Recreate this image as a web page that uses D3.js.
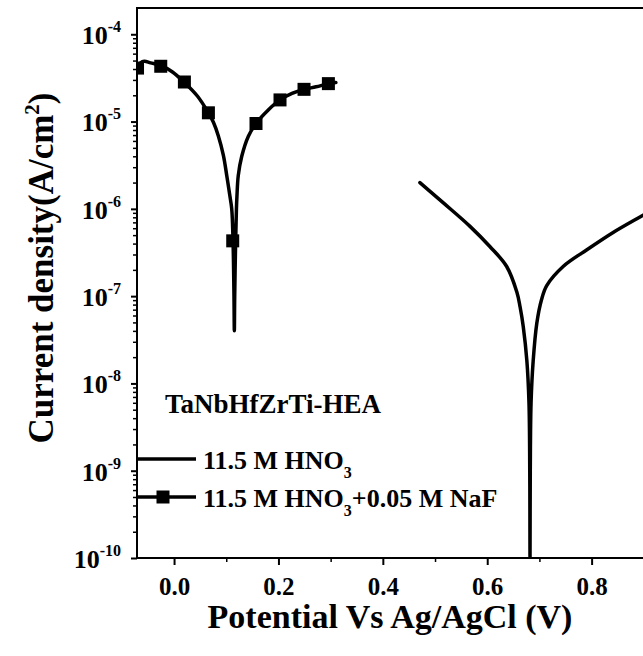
<!DOCTYPE html>
<html>
<head>
<meta charset="utf-8">
<script src="https://cdn.jsdelivr.net/npm/d3@7"></script>
<style>
  html, body { margin: 0; padding: 0; background: #fff; }
  svg { display: block; font-family: "Liberation Serif", "Times New Roman", serif; font-weight: bold; }
  svg text { font-family: "Liberation Serif", "Times New Roman", serif; font-weight: bold; }
</style>
</head>
<body>
<div id="chart"></div>
<script>
// potential (V vs Ag/AgCl) and current density (A/cm2)
const hno3Potential = [0.471, 0.516, 0.567, 0.605, 0.637, 0.657, 0.663, 0.669, 0.676, 0.680, 0.6815, 0.682,
  0.6825, 0.684, 0.688, 0.695, 0.704, 0.714, 0.746, 0.791, 0.842, 0.896, 0.91];
const hno3Current = [2.0e-6, 1.17e-6, 6.3e-7, 3.7e-7, 2.2e-7, 1.1e-7, 7.5e-8, 4.5e-8, 1.8e-8, 6e-9, 1e-9, 1e-10,
  1e-9, 6e-9, 1.8e-8, 4.9e-8, 9.1e-8, 1.32e-7, 2.2e-7, 3.4e-7, 5.4e-7, 8.3e-7, 9.3e-7];

const nafPotential = [-0.071, -0.064, -0.057, -0.045, -0.026, -0.003, 0.020, 0.045, 0.0658, 0.0754, 0.085,
  0.0945, 0.101, 0.107, 0.1105, 0.113, 0.1148, 0.1155, 0.1162, 0.118, 0.1195, 0.1205, 0.123, 0.1297, 0.1424,
  0.157, 0.180, 0.203, 0.226, 0.249, 0.272, 0.296, 0.310];
const nafCurrent = [4.0e-5, 4.7e-5, 4.9e-5, 4.7e-5, 4.4e-5, 3.7e-5, 2.8e-5, 1.95e-5, 1.26e-5, 9.8e-6, 6.8e-6,
  4.1e-6, 2.4e-6, 1.4e-6, 1.0e-6, 4.3e-7, 1.0e-7, 4e-8, 1.0e-7, 4.3e-7, 1.0e-6, 1.4e-6, 2.4e-6, 4.0e-6, 6.8e-6,
  9.5e-6, 1.35e-5, 1.77e-5, 2.1e-5, 2.34e-5, 2.5e-5, 2.72e-5, 2.8e-5];

// square symbols on the NaF curve
const nafMarkerPotential = [-0.070, -0.0255, 0.0198, 0.0658, 0.1124, 0.157, 0.203, 0.249, 0.2957];
const nafMarkerCurrent = [4.1e-5, 4.3e-5, 2.84e-5, 1.26e-5, 4.3e-7, 9.5e-6, 1.77e-5, 2.34e-5, 2.72e-5];

const xMajorTicks = [0.0, 0.2, 0.4, 0.6, 0.8];
const xMinorTicks = [0.1, 0.3, 0.5, 0.7, 0.9];
const yDecadeTicks = [1e-10, 1e-9, 1e-8, 1e-7, 1e-6, 1e-5, 1e-4];

const seriesNames = ["11.5 M HNO", "11.5 M HNO"];

const width = 643, height = 656;
const margin = { left: 137, top: 8, bottom: 98 };
const plotRight = 696; // the frame runs past the picture's right edge
const serif = "Liberation Serif, Times New Roman, serif";

const svg = d3.select("#chart").append("svg")
  .attr("width", width)
  .attr("height", height);

const x = d3.scaleLinear().domain([-0.071, 1.0]).range([margin.left, plotRight]);
const y = d3.scaleLog().domain([1e-10, 2e-4]).range([height - margin.bottom, margin.top]);

svg.append("clipPath").attr("id", "plotClip")
  .append("rect")
  .attr("x", margin.left).attr("y", margin.top)
  .attr("width", plotRight - margin.left)
  .attr("height", y(1e-10) - margin.top);

// minor ticks on the log axis: 2..9 within each decade
const yMinorTicks = [];
yDecadeTicks.concat([1e-3]).forEach(function (dec) {
  for (let k = 2; k <= 9; k++) {
    const v = dec * k / 10;
    if (v > 1e-10 && v < 2e-4) yMinorTicks.push(v);
  }
});

// y axis
svg.append("g")
  .attr("transform", "translate(" + margin.left + ",0)")
  .call(d3.axisLeft(y).tickValues(yMinorTicks).tickSize(4).tickFormat(""))
  .call(function (g) { g.select(".domain").remove(); })
  .selectAll("line").attr("stroke-width", 1.5);

const yAxisG = svg.append("g")
  .attr("transform", "translate(" + margin.left + ",0)")
  .call(d3.axisLeft(y).tickValues(yDecadeTicks).tickSize(6).tickPadding(10).tickFormat(""));
yAxisG.attr("font-family", serif).attr("font-weight", "bold");
yAxisG.select(".domain").remove();
yAxisG.selectAll("line").attr("stroke-width", 2);
yAxisG.selectAll(".tick text")
  .attr("font-size", 26)
  .attr("fill", "#000")
  .attr("dy", "0.36em")
  .each(function (d) {
    const t = d3.select(this);
    t.text("10");
    t.append("tspan")
      .attr("font-size", 16)
      .attr("dy", -12)
      .text(String(Math.round(Math.log10(d))));
  });

// x axis
svg.append("g")
  .attr("transform", "translate(0," + y(1e-10) + ")")
  .call(d3.axisBottom(x).tickValues(xMinorTicks).tickSize(4).tickFormat(""))
  .call(function (g) { g.select(".domain").remove(); })
  .selectAll("line").attr("stroke-width", 1.5);

const xAxisG = svg.append("g")
  .attr("transform", "translate(0," + y(1e-10) + ")")
  .call(d3.axisBottom(x).tickValues(xMajorTicks).tickSize(7).tickPadding(12).tickFormat(d3.format(".1f")));
xAxisG.attr("font-family", serif).attr("font-weight", "bold");
xAxisG.select(".domain").remove();
xAxisG.selectAll("line").attr("stroke-width", 2);
xAxisG.selectAll(".tick text")
  .attr("font-size", 25)
  .attr("fill", "#000");

// frame: left, bottom, top
svg.append("path")
  .attr("d", "M" + plotRight + "," + margin.top + "H" + margin.left + "V" + y(1e-10) + "H" + plotRight)
  .attr("fill", "none")
  .attr("stroke", "#000")
  .attr("stroke-width", 2);

const line = d3.line()
  .x(function (d) { return x(d[0]); })
  .y(function (d) { return y(d[1]); })
  .curve(d3.curveCatmullRom.alpha(0.5));

const plot = svg.append("g").attr("clip-path", "url(#plotClip)");

plot.append("path")
  .datum(d3.zip(hno3Potential, hno3Current))
  .attr("d", line)
  .attr("fill", "none")
  .attr("stroke", "#000")
  .attr("stroke-width", 3.5)
  .attr("stroke-linejoin", "round")
  .attr("stroke-linecap", "round");

plot.append("path")
  .datum(d3.zip(nafPotential, nafCurrent))
  .attr("d", line)
  .attr("fill", "none")
  .attr("stroke", "#000")
  .attr("stroke-width", 3.5)
  .attr("stroke-linejoin", "round")
  .attr("stroke-linecap", "round");

const markerSize = 13;
plot.selectAll(".nafMarker")
  .data(d3.zip(nafMarkerPotential, nafMarkerCurrent))
  .enter()
  .append("rect")
  .attr("class", "nafMarker")
  .attr("x", function (d) { return x(d[0]) - markerSize / 2; })
  .attr("y", function (d) { return y(d[1]) - markerSize / 2; })
  .attr("width", markerSize)
  .attr("height", markerSize)
  .attr("fill", "#000");

// sample name and legend
svg.append("text")
  .attr("x", 165).attr("y", 413)
  .attr("font-size", 27)
  .text("TaNbHfZrTi-HEA");

const legendRows = [459, 497];
legendRows.forEach(function (ly, i) {
  svg.append("line")
    .attr("x1", margin.left).attr("x2", 196)
    .attr("y1", ly).attr("y2", ly)
    .attr("stroke", "#000").attr("stroke-width", 3.5);
  if (i === 1) {
    svg.append("rect")
      .attr("x", 163 - markerSize / 2).attr("y", ly - markerSize / 2)
      .attr("width", markerSize).attr("height", markerSize)
      .attr("fill", "#000");
  }
  const t = svg.append("text")
    .attr("x", 203).attr("y", ly + 10)
    .attr("font-size", 26)
    .text(seriesNames[i]);
  t.append("tspan").attr("font-size", 16).attr("dy", 9).text("3");
  if (i === 1) t.append("tspan").attr("dy", -9).text("+0.05 M NaF");
});

// axis titles
svg.append("text")
  .attr("x", 390).attr("y", 628)
  .attr("text-anchor", "middle")
  .attr("font-size", 34)
  .text("Potential Vs Ag/AgCl (V)");

const yTitle = svg.append("text")
  .attr("transform", "translate(53,268) rotate(-90)")
  .attr("text-anchor", "middle")
  .attr("font-size", 35)
  .text("Current density(A/cm");
yTitle.append("tspan").attr("font-size", 21).attr("dy", -14).text("2");
yTitle.append("tspan").attr("dy", 14).text(")");
</script>
</body>
</html>
